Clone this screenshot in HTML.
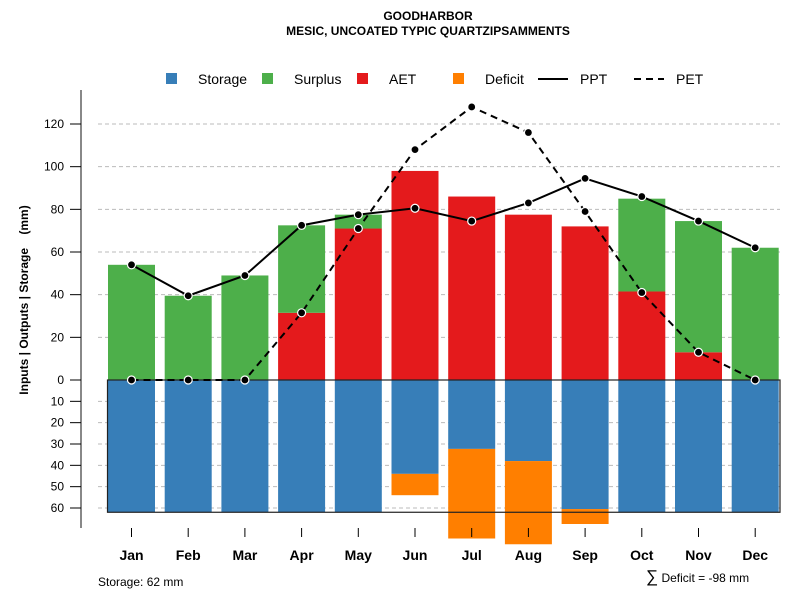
<!DOCTYPE html>
<html><head><meta charset="utf-8"><style>
body{margin:0;background:#fff;font-family:"Liberation Sans",sans-serif}
svg text{font-family:"Liberation Sans",sans-serif}
</style></head><body>
<svg id="c" width="800" height="600" xmlns="http://www.w3.org/2000/svg">
<text x="428" y="20" text-anchor="middle" font-size="12" font-weight="bold">GOODHARBOR</text>
<text x="428" y="35" text-anchor="middle" font-size="12" font-weight="bold">MESIC, UNCOATED TYPIC QUARTZIPSAMMENTS</text>
<g font-size="14">
<rect x="166" y="73" width="11" height="11" fill="#377eb8"/><text x="198" y="84">Storage</text>
<rect x="262" y="73" width="11" height="11" fill="#4daf4a"/><text x="294" y="84">Surplus</text>
<rect x="357" y="73" width="11" height="11" fill="#e41a1c"/><text x="389" y="84">AET</text>
<rect x="453" y="73" width="11" height="11" fill="#ff7f00"/><text x="485" y="84">Deficit</text>
<line x1="538" y1="79" x2="568" y2="79" stroke="#000" stroke-width="2"/><text x="580" y="84">PPT</text>
<line x1="634" y1="79" x2="664" y2="79" stroke="#000" stroke-width="2" stroke-dasharray="7,5"/><text x="676" y="84">PET</text>
</g>
<text transform="translate(28,300) rotate(-90)" text-anchor="middle" font-size="12" font-weight="bold">Inputs | Outputs | Storage&#160;&#160;&#160;&#160;(mm)</text>
<text x="98" y="586" font-size="12">Storage: 62 mm</text>
<text x="646" y="582" font-size="12"><tspan font-size="17">∑</tspan> Deficit = -98 mm</text>
<g id="grid"></g><g id="bars"></g><g id="lines"></g><g id="axes"></g>
</svg>
<script>
const months=["Jan","Feb","Mar","Apr","May","Jun","Jul","Aug","Sep","Oct","Nov","Dec"];
const ppt=[54,39.5,49,72.5,77.5,80.5,74.5,83,94.5,86,74.5,62];
const pet=[0,0,0,31.5,71,108,128,116,79,41,13,0];
const aet=[0,0,0,31.5,71,98,86,77.5,72,41.5,13,0];
const surplus=[54,39.5,49,41,6.5,0,0,0,0,43.5,61.5,62];
const storage=[62,62,62,62,62,44,32.3,38,60.5,62,62,62];
const deficit=[0,0,0,0,0,10,42,39,7,0,0,0];
const upTicks=[0,20,40,60,80,100,120];
const downTicks=[10,20,30,40,50,60];
const NS="http://www.w3.org/2000/svg";
const y0=380,k=2.1333;
const yUp=v=>y0-v*k, yDn=v=>y0+v*k;
const xC=i=>131.5+i*56.7, bw=47;
function mk(p,t,a){const e=document.createElementNS(NS,t);for(const n in a)e.setAttribute(n,a[n]);document.getElementById(p).appendChild(e);return e;}
upTicks.forEach(v=>{if(v>0){const g=mk('grid','line',{x1:98,x2:780,y1:yUp(v),y2:yUp(v),stroke:'#bbb','stroke-dasharray':'4,3'});

}});
downTicks.forEach(v=>{const g=mk('grid','line',{x1:98,x2:780,y1:yDn(v),y2:yDn(v),stroke:'#bbb','stroke-dasharray':'4,3'});

});
months.forEach((m,i)=>{const x=xC(i)-bw/2;
let r=mk('bars','rect',{x:x,y:yUp(aet[i]),width:bw,height:aet[i]*k,fill:'#e41a1c'});


r=mk('bars','rect',{x:x,y:yUp(aet[i]+surplus[i]),width:bw,height:surplus[i]*k,fill:'#4daf4a'});


r=mk('bars','rect',{x:x,y:y0,width:bw,height:storage[i]*k,fill:'#377eb8'});


r=mk('bars','rect',{x:x,y:yDn(storage[i]),width:bw,height:deficit[i]*k,fill:'#ff7f00'});


});
let fr=mk('bars','rect',{x:107.5,y:y0,width:672.5,height:62*k,fill:'none',stroke:'#222','stroke-width':1.2});


[[ppt,''],[pet,'7,5']].forEach(([d,da],j)=>{
const p=mk('lines','polyline',{points:d.map((v,i)=>xC(i)+','+yUp(v)).join(' '),fill:'none',stroke:'#000','stroke-width':2,'stroke-dasharray':da});


d.forEach((v,i)=>{const c=mk('lines','circle',{cx:xC(i),cy:yUp(v),r:4,fill:'#000',stroke:'#fff','stroke-width':1.2});

});
});
let ax=mk('axes','line',{x1:81,x2:81,y1:90,y2:528,stroke:'#888','stroke-width':2});


upTicks.forEach(v=>{const t=mk('axes','line',{x1:70,x2:81,y1:yUp(v),y2:yUp(v),stroke:'#000'});


const l=mk('axes','text',{x:64,y:yUp(v)+4,'text-anchor':'end','font-size':12});l.textContent=v;

});
downTicks.forEach(v=>{const t=mk('axes','line',{x1:70,x2:81,y1:yDn(v),y2:yDn(v),stroke:'#000'});


const l=mk('axes','text',{x:64,y:yDn(v)+4,'text-anchor':'end','font-size':12});l.textContent=v;

});
months.forEach((m,i)=>{const t=mk('axes','line',{x1:xC(i),x2:xC(i),y1:528,y2:537,stroke:'#000'});


const l=mk('axes','text',{x:xC(i),y:560,'text-anchor':'middle','font-size':14,'font-weight':'bold'});l.textContent=m;

});
</script>
</body></html>
